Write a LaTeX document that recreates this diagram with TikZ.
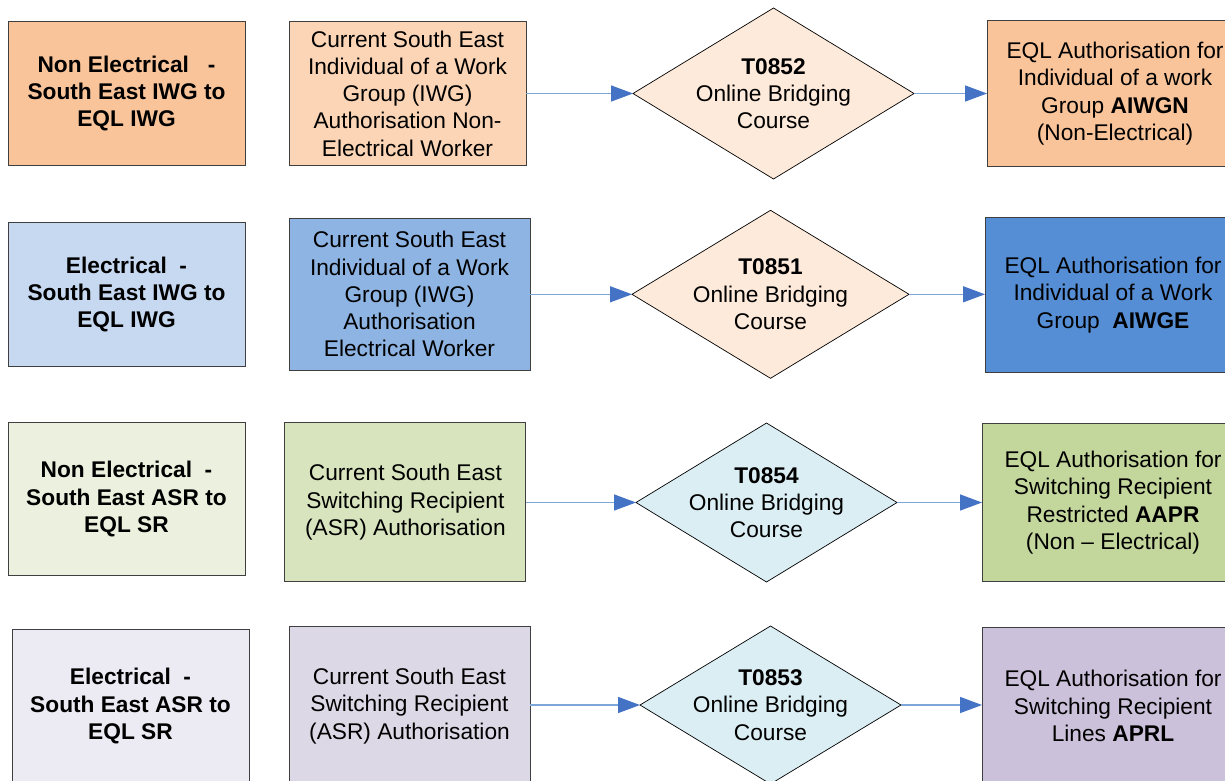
\documentclass[tikz,border=0pt]{standalone}
\usepackage{fontspec}
\setmainfont{Liberation Sans}
\usetikzlibrary{shapes.geometric,arrows.meta}
\definecolor{orgA}{HTML}{F9C49A}
\definecolor{orgB}{HTML}{FBD5B5}
\definecolor{orgD}{HTML}{FDEADA}
\definecolor{bluA}{HTML}{C6D9F1}
\definecolor{bluB}{HTML}{8EB4E3}
\definecolor{bluC}{HTML}{558ED5}
\definecolor{grnA}{HTML}{EBF1DE}
\definecolor{grnB}{HTML}{D7E4BD}
\definecolor{grnC}{HTML}{C3D69B}
\definecolor{cyaD}{HTML}{DBEEF4}
\definecolor{purA}{HTML}{ECEAF2}
\definecolor{purB}{HTML}{DDD8E6}
\definecolor{purC}{HTML}{CCC1DA}
\definecolor{boxline}{HTML}{3F3F3F}
\definecolor{arrline}{HTML}{7FA6D8}
\definecolor{arrhead}{HTML}{4472C4}
\tikzset{
  txt/.style={font=\fontsize{22.7}{27.3}\selectfont, align=center},
  boxnode/.style={draw=boxline, line width=0.9pt, rectangle, inner sep=0pt, outer sep=0pt, txt},
  dianode/.style={draw=black, line width=0.7pt, diamond, inner sep=0pt, outer sep=0pt},
  flow/.style={draw=arrline, line width=1.4pt, -{Triangle[length=22pt,width=16pt,color=arrhead]}},
}
\newcommand{\diatext}[1]{{\bfseries #1}\\Online Bridging\\Course}
\begin{document}
\begin{tikzpicture}[x=1pt,y=-1pt]
\useasboundingbox (0,0) rectangle (1225,781);
\clip (0,0) rectangle (1225,781);
\fill[white] (0,0) rectangle (1225,781);

% Row 1
\node[boxnode, fill=orgA, minimum width=237pt, minimum height=144pt] (a1) at (126.5,93.5) {\bfseries Non Electrical\ \ \ -\\\bfseries South East IWG to\\\bfseries EQL IWG};
\node[boxnode, fill=orgB, minimum width=237pt, minimum height=144pt] (b1) at (407.5,93.5) {Current South East\\Individual of a Work\\Group (IWG)\\Authorisation Non-\\Electrical Worker};
\node[dianode, fill=orgD, minimum width=281pt, minimum height=171pt] (d1) at (773.5,93.5) {};
\node[txt] (t1) at (d1.center) {\diatext{T0852}};
\node[boxnode, fill=orgA, minimum width=260pt, minimum height=146pt, anchor=west] (c1) at (987,93.5) {};
\node[txt] (u1) at (1115,93.5) {EQL Authorisation for\\Individual of a work\\Group {\bfseries AIWGN}\\(Non-Electrical)};

% Row 2
\node[boxnode, fill=bluA, minimum width=237pt, minimum height=144pt] (a2) at (126.5,294.5) {\bfseries Electrical\ \ -\\\bfseries South East IWG to\\\bfseries EQL IWG};
\node[boxnode, fill=bluB, minimum width=241pt, minimum height=152pt] (b2) at (409.5,294.2) {Current South East\\Individual of a Work\\Group (IWG)\\Authorisation\\Electrical Worker};
\node[dianode, fill=orgD, minimum width=277pt, minimum height=168pt] (d2) at (770.5,294.3) {};
\node[txt] (t2) at (d2.center) {\diatext{T0851}};
\node[boxnode, fill=bluC, minimum width=260pt, minimum height=155pt, anchor=west] (c2) at (985,295.3) {};
\node[txt] (u2) at (1113,295) {EQL Authorisation for\\Individual of a Work\\Group\ \ {\bfseries AIWGE}};

% Row 3
\node[boxnode, fill=grnA, minimum width=237pt, minimum height=153pt] (a3) at (126.5,499.2) {\bfseries Non Electrical\ \ -\\\bfseries South East ASR to\\\bfseries EQL SR};
\node[boxnode, fill=grnB, minimum width=241pt, minimum height=159pt] (b3) at (405.4,502.2) {Current South East\\Switching Recipient\\(ASR) Authorisation};
\node[dianode, fill=cyaD, minimum width=261pt, minimum height=159pt] (d3) at (766.5,502.5) {};
\node[txt] (t3) at (d3.center) {\diatext{T0854}};
\node[boxnode, fill=grnC, minimum width=260pt, minimum height=158pt, anchor=west] (c3) at (982,502) {};
\node[txt] (u3) at (1113,502.5) {EQL Authorisation for\\Switching Recipient\\Restricted {\bfseries AAPR}\\(Non -- Electrical)};

% Row 4
\node[boxnode, fill=purA, minimum width=237pt, minimum height=154pt] (a4) at (130.5,706) {\bfseries Electrical\ \ -\\\bfseries South East ASR to\\\bfseries EQL SR};
\node[boxnode, fill=purB, minimum width=241pt, minimum height=160pt] (b4) at (409.5,706) {Current South East\\Switching Recipient\\(ASR) Authorisation};
\node[dianode, fill=cyaD, minimum width=261pt, minimum height=158pt] (d4) at (770.5,705) {};
\node[txt] (t4) at (d4.center) {\diatext{T0853}};
\node[boxnode, fill=purC, minimum width=260pt, minimum height=158pt, anchor=west] (c4) at (982,706) {};
\node[txt] (u4) at (1113,706) {EQL Authorisation for\\Switching Recipient\\Lines {\bfseries APRL}};

% Connectors
\draw[flow] (b1.east) -- (d1.west);
\draw[flow] (d1.east) -- (c1.west);
\draw[flow] (b2.east |- d2.west) -- (d2.west);
\draw[flow] (d2.east) -- (c2.west |- d2.east);
\draw[flow] (b3.east |- d3.west) -- (d3.west);
\draw[flow] (d3.east) -- (c3.west |- d3.east);
\draw[flow] (b4.east |- d4.west) -- (d4.west);
\draw[flow] (d4.east) -- (c4.west |- d4.east);
\end{tikzpicture}
\end{document}
